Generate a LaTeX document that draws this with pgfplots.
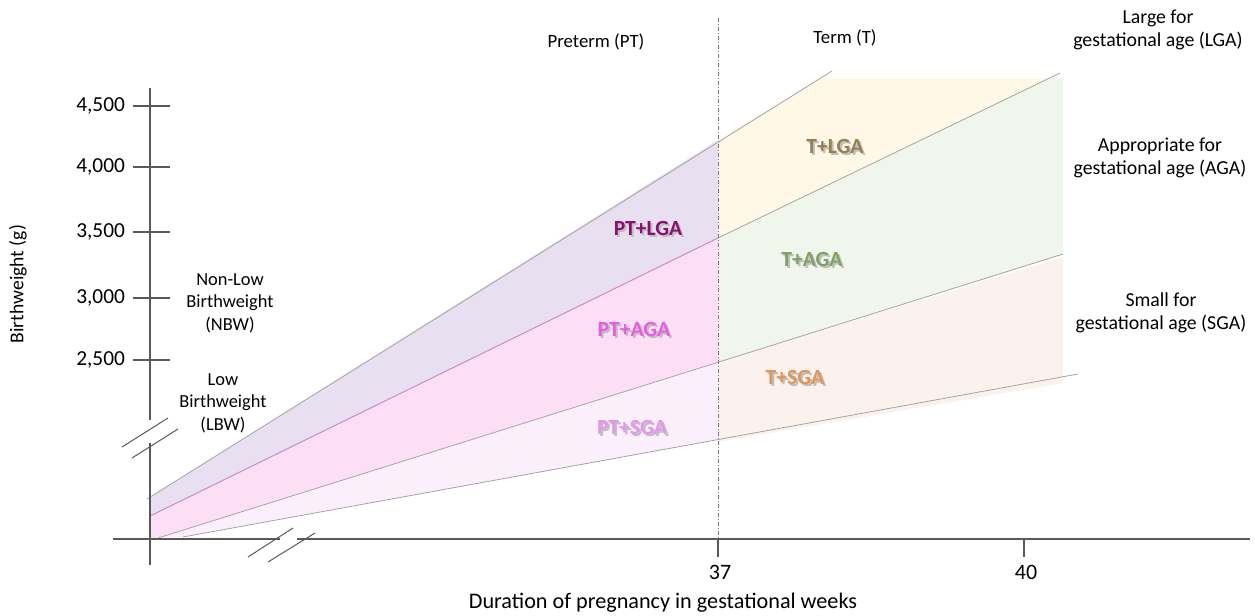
\documentclass[border=0pt]{standalone}
\usepackage{pgfplots}
\pgfplotsset{compat=1.18}
\usepackage{fontspec}
\setmainfont{Carlito}
\definecolor{axgray}{RGB}{89,89,89}
\definecolor{lngray}{RGB}{165,165,165}
\definecolor{lnpink}{RGB}{200,140,200}
\definecolor{fPTLGA}{RGB}{232,224,241}
\definecolor{fPTAGA}{RGB}{252,222,245}
\definecolor{fPTSGA}{RGB}{251,239,252}
\definecolor{fTLGA}{RGB}{255,248,230}
\definecolor{fTAGA}{RGB}{240,246,235}
\definecolor{fTSGA}{RGB}{252,242,237}
\definecolor{cPTLGA}{RGB}{140,16,112}
\definecolor{cPTAGA}{RGB}{232,92,225}
\definecolor{cPTSGA}{RGB}{230,150,236}
\definecolor{cTLGA}{RGB}{150,126,84}
\definecolor{cTAGA}{RGB}{130,160,100}
\definecolor{cTSGA}{RGB}{222,150,90}
\newcommand{\fs}[1]{\fontsize{#1}{11.3}\selectfont}
\tikzset{lab/.style={inner sep=0pt,outer sep=0pt}}
\begin{document}
\begin{tikzpicture}
\begin{axis}[width=627.5pt,height=308pt,scale only axis,
  xmin=0,xmax=1255,ymin=0,ymax=616,y dir=reverse,
  axis lines=none,clip=false]
% ---- invisible frame fixing the picture's extent
\addplot[draw=none,fill=none] coordinates {(0,0) (1255,0) (1255,616) (0,616)} -- cycle;
% ---- fills (PT region)
\addplot[fill=fPTLGA,draw=none] coordinates {(150,497) (718,140) (718,238) (150,516)} -- cycle;
\addplot[fill=fPTAGA,draw=none] coordinates {(150,516) (718,238) (718,362) (158,538) (150,538)} -- cycle;
\addplot[fill=fPTSGA,draw=none] coordinates {(158,538) (718,362) (718,440) (183,537)} -- cycle;
% ---- fills (T region)
\addplot[fill=fTLGA,draw=none] coordinates {(718,140) (822,78) (1050,78) (718,238)} -- cycle;
\addplot[fill=fTAGA,draw=none] coordinates {(718,238) (1050,78) (1063,78) (1063,255) (718,362)} -- cycle;
\addplot[fill=fTSGA,draw=none] coordinates {(718,362) (1063,257) (1063,383) (718,442)} -- cycle;
% ---- boundary lines
\addplot[lngray,line width=0.4pt] coordinates {(147,499) (832,71)};
\addplot[lngray,line width=0.4pt] coordinates {(718,238) (1060,73)};
\addplot[lnpink,line width=0.5pt] coordinates {(150,516) (718,238)};
\addplot[lngray,line width=0.4pt] coordinates {(158,538) (1063,254)};
\addplot[lngray,line width=0.4pt] coordinates {(183,537) (1078,374)};
% ---- dash-dot separator
\addplot[axgray!80,line width=0.4pt,dash pattern=on 2pt off 1pt on 0.5pt off 1pt] coordinates {(718,18) (718,540)};
% ---- axes
\addplot[axgray,line width=0.7pt] coordinates {(150,88) (150,420)};
\addplot[axgray,line width=0.7pt] coordinates {(150,443) (150,565)};
\addplot[axgray,line width=0.7pt] coordinates {(113,539) (280,539)};
\addplot[axgray,line width=0.7pt] coordinates {(297,539) (1250,539)};
% break marks
\addplot[axgray,line width=0.5pt] coordinates {(122,447) (168,418)};
\addplot[axgray,line width=0.5pt] coordinates {(132,458) (178,429)};
\addplot[axgray,line width=0.5pt] coordinates {(248,557) (293,528)};
\addplot[axgray,line width=0.5pt] coordinates {(268,562) (315,533)};
% y ticks
\addplot[axgray,line width=0.6pt] coordinates {(133,106) (170,106)};
\addplot[axgray,line width=0.6pt] coordinates {(133,167) (170,167)};
\addplot[axgray,line width=0.6pt] coordinates {(133,232) (170,232)};
\addplot[axgray,line width=0.6pt] coordinates {(133,298) (170,298)};
\addplot[axgray,line width=0.6pt] coordinates {(133,360) (170,360)};
% x ticks
\addplot[axgray,line width=0.6pt] coordinates {(718,540) (718,557)};
\addplot[axgray,line width=0.6pt] coordinates {(1024,540) (1024,557)};
% ---- tick labels
\node[lab,anchor=east,font=\fs{10.7}] at (axis cs:125,106) {4,500};
\node[lab,anchor=east,font=\fs{10.7}] at (axis cs:125,167) {4,000};
\node[lab,anchor=east,font=\fs{10.7}] at (axis cs:125,232) {3,500};
\node[lab,anchor=east,font=\fs{10.7}] at (axis cs:125,298) {3,000};
\node[lab,anchor=east,font=\fs{10.7}] at (axis cs:125,360) {2,500};
\node[lab,font=\fs{11}] at (axis cs:720,572) {37};
\node[lab,font=\fs{11}] at (axis cs:1026,572) {40};
% ---- axis titles
\node[lab,font=\fs{11.1}] at (axis cs:663,603) {Duration of pregnancy in gestational weeks};
\node[lab,rotate=90,font=\fs{9.8}] at (axis cs:18,284) {Birthweight (g)};
% ---- annotations
\node[lab,align=center,font=\fs{9.2}] at (axis cs:230,303) {Non-Low\\Birthweight\\(NBW)};
\node[lab,align=center,font=\fs{9.2}] at (axis cs:223,403) {Low\\Birthweight\\(LBW)};
\node[lab,font=\fs{9.4}] at (axis cs:596,42) {Preterm (PT)};
\node[lab,font=\fs{9.4}] at (axis cs:845,38) {Term (T)};
\node[lab,align=center,font=\fs{9.9}] at (axis cs:1158,30) {Large for\\gestational age (LGA)};
\node[lab,align=center,font=\fs{9.9}] at (axis cs:1160,158) {Appropriate for\\gestational age (AGA)};
\node[lab,align=center,font=\fs{9.9}] at (axis cs:1161,313) {Small for\\gestational age (SGA)};
% ---- region labels (with soft shadow)
\foreach \px/\py/\c/\t in {648/228/cPTLGA/PT+LGA, 634/329/cPTAGA/PT+AGA, 632/427/cPTSGA/PT+SGA, 835/146/cTLGA/T+LGA, 812/259/cTAGA/T+AGA, 795/377/cTSGA/T+SGA}{
  \edef\tmp{\noexpand\node[lab,text=black!25,font=\noexpand\fs{10.8}] at (axis cs:\px+2,\py+2) {\noexpand\textbf{\t}};
    \noexpand\node[lab,text=\c,font=\noexpand\fs{10.8}] at (axis cs:\px,\py) {\noexpand\textbf{\t}};}
  \tmp
}
\end{axis}
\end{tikzpicture}
\end{document}
